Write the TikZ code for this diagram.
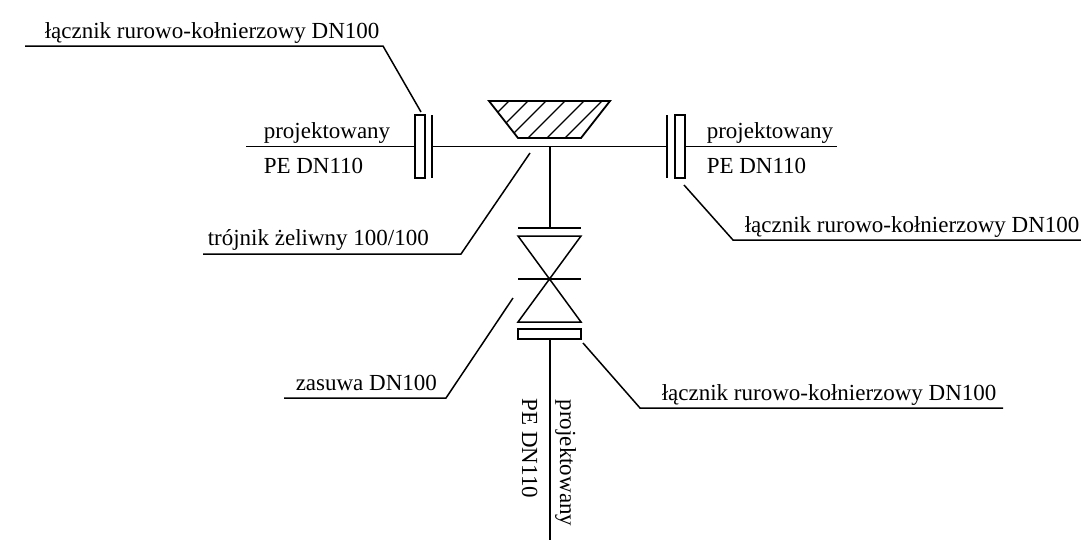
\documentclass[tikz,border=0pt]{standalone}
\usepackage{fontspec}
\setmainfont{Liberation Serif}
\begin{document}
\begin{tikzpicture}[x=1pt,y=-1pt,line width=1.5pt,
  lbl/.style={inner sep=0pt,font=\fontsize{23}{26}\selectfont,anchor=base west},
  thick line/.style={line width=1.8pt}]
\useasboundingbox (0,0) rectangle (1081,544);
% pipes
\coordinate (mL) at (246,146.5); \coordinate (mR) at (837,146.5);
\coordinate (bot) at (550,540);
\node[draw,thick line,minimum width=10pt,minimum height=63pt,inner sep=0pt,outer sep=0pt] (fl) at (420,146.5) {};
\node[draw,thick line,minimum width=10pt,minimum height=63pt,inner sep=0pt,outer sep=0pt] (fr) at (680,146.5) {};
\node[draw,thick line,minimum width=63pt,minimum height=10pt,inner sep=0pt,outer sep=0pt] (fb) at (549.5,334) {};
\coordinate (pl1) at (432,115); \coordinate (pl2) at (432,178);
\coordinate (pr1) at (667,115); \coordinate (pr2) at (667,178);
\coordinate (pb1) at (518,228); \coordinate (pb2) at (581,228);
\coordinate (jn) at (550,146.5);
\draw (mL) -- (fl.west);
\draw (pl1) -- (pl2);
\draw (pr1) -- (pr2);
\draw (432,146.5) -- (667,146.5);
\draw (fr.east) -- (mR);
\draw (jn) -- (550,228);
\draw[thick line] (pb1) -- (pb2);
\draw (fb.south -| bot) -- (bot);
% valve
\coordinate (vtl) at (518,236); \coordinate (vtr) at (581,236);
\coordinate (vbl) at (518,322); \coordinate (vbr) at (581,322);
\draw[line join=miter] (vtl) -- (vtr) -- (vbl) -- (vbr) -- cycle;
\draw (518,279) -- (581,279);
% trapezoid
\begin{scope}
\clip (489,101) -- (610,101) -- (581,138) -- (518,138) -- cycle;
\foreach \x in {509,528,546,565,584,602} \draw[line width=1.1pt] (\x,101) -- ++(-37,37);
\end{scope}
\draw[thick line] (489,101) -- (610,101) -- (581,138) -- (518,138) -- cycle;
% leaders
\draw (25,46) -- (383,46) -- (421,112);
\draw (203,254) -- (461,254) -- (530,153);
\draw (284,398) -- (446,398) -- (513,298);
\draw (684,185) -- (733,240) -- (1081,240);
\draw (583,343) -- (640,408) -- (1003,408);
% text
\node[lbl] (t1) at (44,38) {łącznik rurowo-kołnierzowy DN100};
\node[lbl] (t2) at (263,138.5) {projektowany};
\node[lbl] (t3) at (263,173) {PE DN110};
\node[lbl] (t4) at (706,138.5) {projektowany};
\node[lbl] (t5) at (706,173) {PE DN110};
\node[lbl] (t6) at (744,232) {łącznik rurowo-kołnierzowy DN100};
\node[lbl] (t7) at (207,245) {trójnik żeliwny 100/100};
\node[lbl] (t8) at (295,390) {zasuwa DN100};
\node[lbl] (t9) at (661,400) {łącznik rurowo-kołnierzowy DN100};
\node[lbl,rotate=-90] (t10) at (560,399) {projektowany};
\node[lbl,rotate=-90] (t11) at (522,398) {PE DN110};
\end{tikzpicture}
\end{document}
